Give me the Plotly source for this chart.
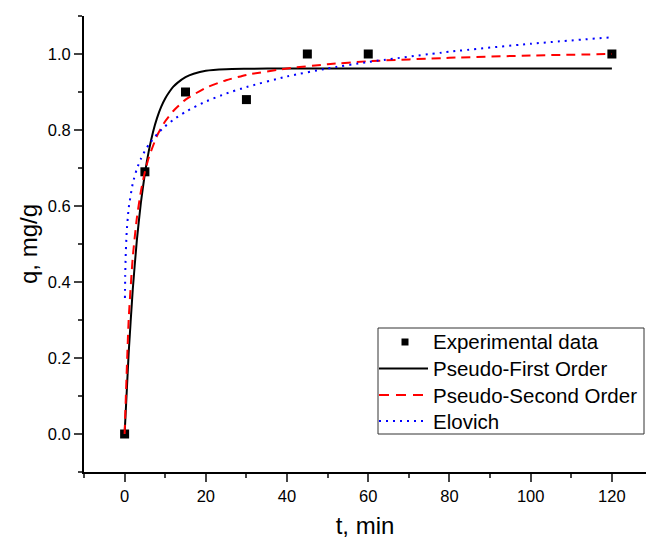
import plotly.graph_objects as go

# Experimental data
t_exp = [0, 5, 15, 30, 45, 60, 120]
q_exp = [0.0, 0.69, 0.90, 0.88, 1.0, 1.0, 1.0]

# Pseudo-First Order fitted curve
t_pfo = [0, 1, 2, 3, 4, 5, 6, 7, 8, 9, 10, 11, 12, 13, 15, 17, 20, 25, 30, 40, 60, 80, 100, 120]
q_pfo = [0.0, 0.213, 0.379, 0.508, 0.608, 0.686, 0.747, 0.795, 0.832, 0.861, 0.883, 0.900, 0.914, 0.924, 0.939, 0.948, 0.956, 0.960, 0.961, 0.962, 0.962, 0.962, 0.962, 0.962]

# Pseudo-Second Order fitted curve
t_pso = [0, 1, 2, 3, 4, 5, 6, 8, 10, 12, 15, 20, 25, 30, 40, 50, 60, 80, 100, 120]
q_pso = [0.0, 0.301, 0.464, 0.567, 0.638, 0.690, 0.729, 0.785, 0.823, 0.850, 0.880, 0.911, 0.931, 0.945, 0.962, 0.973, 0.981, 0.990, 0.996, 1.000]

# Elovich fitted curve
t_elo = [0.08, 0.15, 0.25, 0.5, 1, 2, 3, 4, 5, 6, 8, 10, 12, 15, 20, 25, 30, 40, 50, 60, 80, 100, 120]
q_elo = [0.358, 0.417, 0.464, 0.529, 0.594, 0.659, 0.697, 0.724, 0.745, 0.762, 0.789, 0.810, 0.827, 0.848, 0.875, 0.896, 0.913, 0.941, 0.962, 0.979, 1.006, 1.027, 1.044]

x_ticks = [0, 20, 40, 60, 80, 100, 120]
y_ticks = [0.0, 0.2, 0.4, 0.6, 0.8, 1.0]
y_ticklabels = ["0.0", "0.2", "0.4", "0.6", "0.8", "1.0"]

legend_names = ["Experimental data", "Pseudo-First Order", "Pseudo-Second Order", "Elovich"]

FONT = "Arial, Liberation Sans, sans-serif"

fig = go.Figure()
fig.add_trace(go.Scatter(x=t_exp, y=q_exp, mode="markers", name=legend_names[0],
                         marker=dict(symbol="square", size=9, color="black"), showlegend=False))
fig.add_trace(go.Scatter(x=t_pfo, y=q_pfo, mode="lines", name=legend_names[1], showlegend=False,
                         line=dict(color="black", width=2, shape="spline", smoothing=0.5)))
fig.add_trace(go.Scatter(x=t_pso, y=q_pso, mode="lines", name=legend_names[2], showlegend=False,
                         line=dict(color="red", width=2, dash="9px,6px", shape="spline", smoothing=0.5)))
fig.add_trace(go.Scatter(x=t_elo, y=q_elo, mode="lines", name=legend_names[3], showlegend=False,
                         line=dict(color="blue", width=2, dash="2px,5px", shape="spline", smoothing=0.5)))

# Manual legend (paper coordinates)
L, R, B, T = 84, 646, 472, 16
def px(x):
    return (x - L) / (R - L)
def py(y):
    return (B - y) / (B - T)

shapes = [dict(type="rect", xref="paper", yref="paper", x0=px(378), x1=px(644), y0=py(434), y1=py(328),
               line=dict(color="#333333", width=1), fillcolor="white", layer="above")]
rows = [341.7, 368.5, 395, 421]
styles = [None, dict(color="black", width=2), dict(color="red", width=2, dash="10px,7px"),
          dict(color="blue", width=2, dash="2px,5px")]
for r, st in zip(rows[1:], styles[1:]):
    shapes.append(dict(type="line", xref="paper", yref="paper", x0=px(379), x1=px(428),
                       y0=py(r), y1=py(r), line=st, layer="above"))
shapes.append(dict(type="rect", xref="paper", yref="paper", x0=px(401.5), x1=px(408.5),
                   y0=py(345.5), y1=py(338.5), line=dict(width=0), fillcolor="black", layer="above"))
annotations = [dict(xref="paper", yref="paper", x=px(431), y=py(r), text=n, showarrow=False,
                    xanchor="left", yanchor="middle", font=dict(size=20.5, family=FONT, color="black"))
               for r, n in zip(rows, legend_names)]

fig.update_layout(
    width=646, height=539,
    margin=dict(l=84, r=0, t=16, b=67),
    plot_bgcolor="white", paper_bgcolor="white",
    font=dict(family=FONT, color="black", size=16),
    showlegend=False,
    shapes=shapes, annotations=annotations,
    xaxis=dict(range=[-10, 128.4], tickvals=x_ticks, ticks="outside", ticklen=8, tickwidth=1.5,
               showline=True, linecolor="black", linewidth=2, showgrid=False, zeroline=False,
               tickfont=dict(size=16.5), automargin=False,
               minor=dict(tickvals=[-10, 10, 30, 50, 70, 90, 110], ticks="outside", ticklen=4,
                          tickwidth=1.5, showgrid=False),
               title=dict(text="t, min", font=dict(size=24), standoff=15)),
    yaxis=dict(range=[-0.1, 1.1], tickvals=y_ticks, ticktext=y_ticklabels, ticks="outside",
               ticklen=8, tickwidth=1.5, ticklabelstandoff=0,
               showline=True, linecolor="black", linewidth=2, showgrid=False, zeroline=False,
               tickfont=dict(size=16.5), automargin=False,
               minor=dict(tickvals=[-0.1, 0.1, 0.3, 0.5, 0.7, 0.9, 1.1], ticks="outside", ticklen=4,
                          tickwidth=1.5, showgrid=False),
               title=dict(text="q, mg/g", font=dict(size=24), standoff=3)),
)

fig.write_html("out.html", config={"displayModeBar": False},
               post_script="document.body.style.margin='0';document.body.style.overflow='hidden';")
